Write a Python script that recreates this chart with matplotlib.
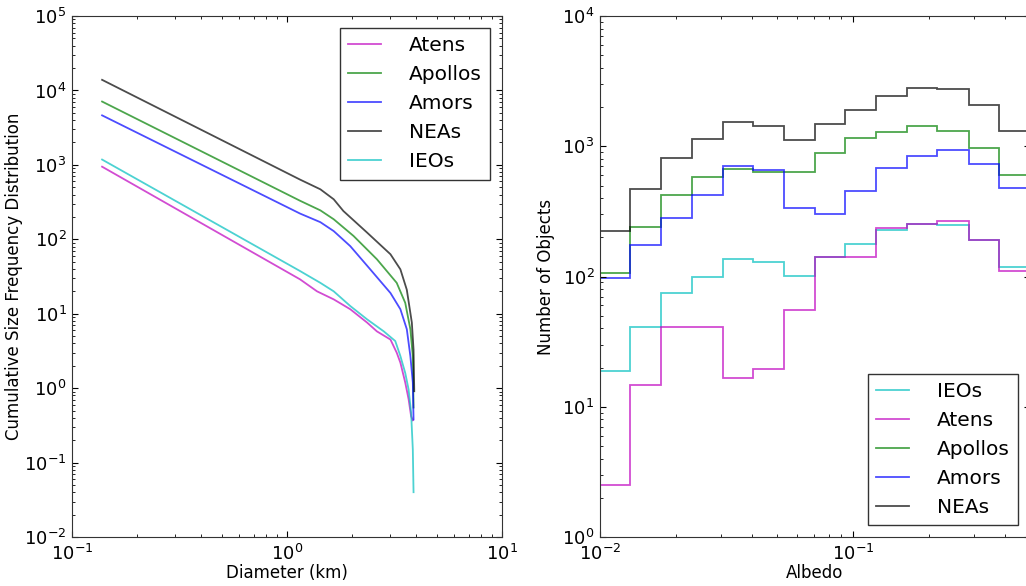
import matplotlib
matplotlib.use("Agg")
import matplotlib.pyplot as plt

# ---- left panel: cumulative size frequency distribution ----
diam_nea = [0.138, 1.15, 1.43, 1.65, 1.83, 2.36, 3.03, 3.37, 3.61, 3.81, 3.88, 3.91]
cum_nea = [13900, 635, 470, 345, 240, 123, 63, 39.5, 21, 7.6, 3.3, 0.91]

diam_apo = [0.138, 1.15, 1.43, 1.65, 2.04, 2.62, 3.24, 3.55, 3.75, 3.85, 3.88]
cum_apo = [7100, 330, 245, 186, 111, 54, 26, 14, 6.2, 2.7, 0.55]

diam_amo = [0.138, 1.15, 1.43, 1.65, 1.97, 2.44, 3.03, 3.37, 3.61, 3.75, 3.85, 3.88]
cum_amo = [4630, 222, 170, 129, 81, 39.5, 19, 11.5, 6.2, 2.7, 1.19, 0.38]

diam_ieo = [0.138, 1.15, 1.43, 1.65, 1.97, 2.36, 2.82, 3.19, 3.37, 3.55, 3.68, 3.78, 3.85, 3.88]
cum_ieo = [1180, 37.5, 26, 20, 12.7, 8.4, 5.8, 4.3, 2.7, 1.6, 0.96, 0.47, 0.15, 0.04]

diam_ate = [0.138, 1.15, 1.38, 1.65, 1.97, 2.36, 2.62, 3.03, 3.24, 3.37, 3.55, 3.68, 3.78, 3.85]
cum_ate = [946, 29, 20, 15.6, 11.5, 7.6, 5.8, 4.5, 3.0, 2.2, 1.19, 0.71, 0.42, 0.37]

# ---- right panel: albedo histograms ----
albedo_edges = [0.01, 0.01315, 0.0174, 0.0231, 0.0306, 0.0403, 0.0533, 0.0708,
                0.0929, 0.1233, 0.1633, 0.2148, 0.287, 0.377, 0.50]
n_ieo = [18.8, 41, 74.7, 100, 136, 129, 101, 141, 177, 227, 252, 250, 190, 119]
n_ate = [2.5, 14.6, 41, 41, 16.5, 19.4, 55, 141, 141, 236, 255, 265, 190, 110]
n_apo = [106, 241, 419, 576, 670, 633, 633, 893, 1155, 1280, 1420, 1300, 970, 602]
n_amo = [97.5, 176, 283, 424, 706, 657, 336, 302, 450, 678, 842, 930, 730, 479]
n_nea = [224, 474, 806, 1140, 1545, 1440, 1120, 1483, 1910, 2420, 2790, 2760, 2085, 1310]

c_ate = (0.75, 0, 0.75)
c_apo = (0, 0.5, 0)
c_amo = (0, 0, 1)
c_nea = (0, 0, 0)
c_ieo = (0, 0.75, 0.75)
alpha = 0.7

plt.rcParams['font.family'] = ['DejaVu Sans']
plt.rcParams['xtick.direction'] = 'in'
plt.rcParams['ytick.direction'] = 'in'
plt.rcParams['xtick.top'] = True
plt.rcParams['ytick.right'] = True
plt.rcParams['xtick.major.size'] = 4
plt.rcParams['ytick.major.size'] = 4
plt.rcParams['xtick.minor.size'] = 2
plt.rcParams['ytick.minor.size'] = 2
plt.rcParams['xtick.major.pad'] = 5
plt.rcParams['ytick.major.pad'] = 4
plt.rcParams['axes.edgecolor'] = '#333333'

fig = plt.figure(figsize=(10.26, 5.86), dpi=100)
ax1 = fig.add_axes([0.0702, 0.0836, 0.419, 0.889])
ax2 = fig.add_axes([0.5848, 0.0836, 0.419, 0.889])

legend_kw = dict(fontsize=14.5, fancybox=False, edgecolor='#333333', framealpha=1,
                 handlelength=1.6, handletextpad=1.4, labelspacing=0.5, borderaxespad=0.6)

ax1.plot(diam_ate, cum_ate, color=c_ate, alpha=alpha, lw=1.3, label='Atens')
ax1.plot(diam_apo, cum_apo, color=c_apo, alpha=alpha, lw=1.3, label='Apollos')
ax1.plot(diam_amo, cum_amo, color=c_amo, alpha=alpha, lw=1.3, label='Amors')
ax1.plot(diam_nea, cum_nea, color=c_nea, alpha=alpha, lw=1.3, label='NEAs')
ax1.plot(diam_ieo, cum_ieo, color=c_ieo, alpha=alpha, lw=1.3, label='IEOs')
ax1.set_xscale('log')
ax1.set_yscale('log')
ax1.set_xlim(0.1, 10)
ax1.set_ylim(1e-2, 1e5)
ax1.set_xlabel('Diameter (km)', fontsize=12, labelpad=0)
ax1.set_ylabel('Cumulative Size Frequency Distribution', fontsize=12)
ax1.yaxis.set_label_coords(-0.113, 0.5)
ax1.tick_params(labelsize=13)
ax1.legend(loc='upper right', **legend_kw)

ax2.stairs(n_ieo, albedo_edges, baseline=None, color=c_ieo, alpha=alpha, lw=1.3, label='IEOs')
ax2.stairs(n_ate, albedo_edges, baseline=None, color=c_ate, alpha=alpha, lw=1.3, label='Atens')
ax2.stairs(n_apo, albedo_edges, baseline=None, color=c_apo, alpha=alpha, lw=1.3, label='Apollos')
ax2.stairs(n_amo, albedo_edges, baseline=None, color=c_amo, alpha=alpha, lw=1.3, label='Amors')
ax2.stairs(n_nea, albedo_edges, baseline=None, color=c_nea, alpha=alpha, lw=1.3, label='NEAs')
ax2.set_xscale('log')
ax2.set_yscale('log')
ax2.set_xlim(0.01, 0.5)
ax2.set_ylim(1, 1e4)
ax2.set_xlabel('Albedo', fontsize=12, labelpad=0)
ax2.set_ylabel('Number of Objects', fontsize=12)
ax2.yaxis.set_label_coords(-0.105, 0.5)
ax2.tick_params(labelsize=13)
ax2.legend(loc='lower right', **legend_kw)

fig.savefig('out.png', dpi=100, facecolor='white')
